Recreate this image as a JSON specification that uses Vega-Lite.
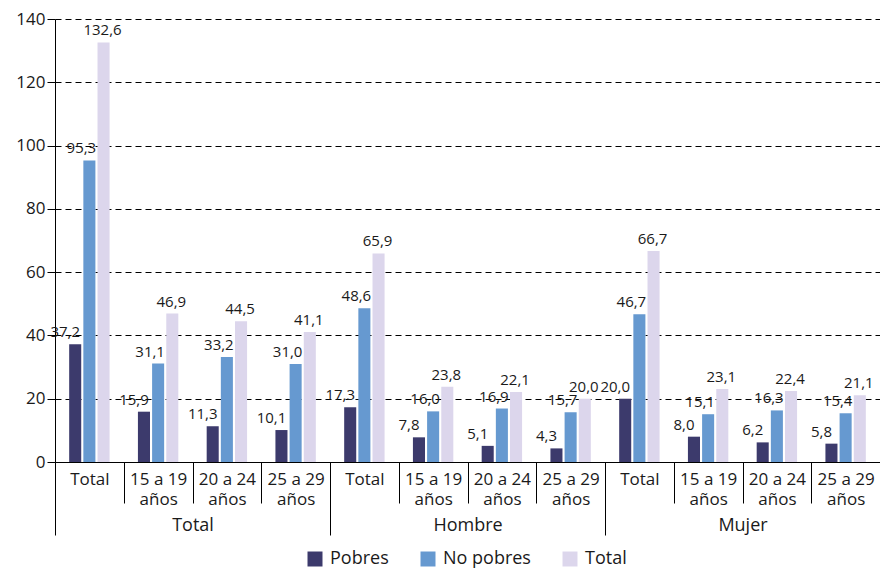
{
  "$schema": "https://vega.github.io/schema/vega-lite/v6.json",
  "autosize": "none",
  "width": 825,
  "height": 443,
  "padding": {"left": 55, "top": 19, "right": 0, "bottom": 109},
  "background": "white",
  "config": {
    "view": {"stroke": null},
    "font": "Open Sans",
    "locale": {"number": {"decimal": ",", "thousands": ".", "grouping": [3], "currency": ["", ""]}},
    "axis": {"labelColor": "#1a1a1a", "labelFont": "Open Sans", "tickColor": "#000000", "domainColor": "#000000"}
  },
  "datasets": {
    "vals": [
      {"grupo": "Total", "cat": "Total|Total", "serie": "Pobres", "valor": 37.2},
      {"grupo": "Total", "cat": "Total|Total", "serie": "No pobres", "valor": 95.3},
      {"grupo": "Total", "cat": "Total|Total", "serie": "Total", "valor": 132.6},
      {"grupo": "Total", "cat": "Total|15 a 19|años", "serie": "Pobres", "valor": 15.9},
      {"grupo": "Total", "cat": "Total|15 a 19|años", "serie": "No pobres", "valor": 31.1},
      {"grupo": "Total", "cat": "Total|15 a 19|años", "serie": "Total", "valor": 46.9},
      {"grupo": "Total", "cat": "Total|20 a 24|años", "serie": "Pobres", "valor": 11.3},
      {"grupo": "Total", "cat": "Total|20 a 24|años", "serie": "No pobres", "valor": 33.2},
      {"grupo": "Total", "cat": "Total|20 a 24|años", "serie": "Total", "valor": 44.5},
      {"grupo": "Total", "cat": "Total|25 a 29|años", "serie": "Pobres", "valor": 10.1},
      {"grupo": "Total", "cat": "Total|25 a 29|años", "serie": "No pobres", "valor": 31.0},
      {"grupo": "Total", "cat": "Total|25 a 29|años", "serie": "Total", "valor": 41.1},
      {"grupo": "Hombre", "cat": "Hombre|Total", "serie": "Pobres", "valor": 17.3},
      {"grupo": "Hombre", "cat": "Hombre|Total", "serie": "No pobres", "valor": 48.6},
      {"grupo": "Hombre", "cat": "Hombre|Total", "serie": "Total", "valor": 65.9},
      {"grupo": "Hombre", "cat": "Hombre|15 a 19|años", "serie": "Pobres", "valor": 7.8},
      {"grupo": "Hombre", "cat": "Hombre|15 a 19|años", "serie": "No pobres", "valor": 16.0},
      {"grupo": "Hombre", "cat": "Hombre|15 a 19|años", "serie": "Total", "valor": 23.8},
      {"grupo": "Hombre", "cat": "Hombre|20 a 24|años", "serie": "Pobres", "valor": 5.1},
      {"grupo": "Hombre", "cat": "Hombre|20 a 24|años", "serie": "No pobres", "valor": 16.9},
      {"grupo": "Hombre", "cat": "Hombre|20 a 24|años", "serie": "Total", "valor": 22.1},
      {"grupo": "Hombre", "cat": "Hombre|25 a 29|años", "serie": "Pobres", "valor": 4.3},
      {"grupo": "Hombre", "cat": "Hombre|25 a 29|años", "serie": "No pobres", "valor": 15.7},
      {"grupo": "Hombre", "cat": "Hombre|25 a 29|años", "serie": "Total", "valor": 20.0},
      {"grupo": "Mujer", "cat": "Mujer|Total", "serie": "Pobres", "valor": 20.0},
      {"grupo": "Mujer", "cat": "Mujer|Total", "serie": "No pobres", "valor": 46.7},
      {"grupo": "Mujer", "cat": "Mujer|Total", "serie": "Total", "valor": 66.7},
      {"grupo": "Mujer", "cat": "Mujer|15 a 19|años", "serie": "Pobres", "valor": 8.0},
      {"grupo": "Mujer", "cat": "Mujer|15 a 19|años", "serie": "No pobres", "valor": 15.1},
      {"grupo": "Mujer", "cat": "Mujer|15 a 19|años", "serie": "Total", "valor": 23.1},
      {"grupo": "Mujer", "cat": "Mujer|20 a 24|años", "serie": "Pobres", "valor": 6.2},
      {"grupo": "Mujer", "cat": "Mujer|20 a 24|años", "serie": "No pobres", "valor": 16.3},
      {"grupo": "Mujer", "cat": "Mujer|20 a 24|años", "serie": "Total", "valor": 22.4},
      {"grupo": "Mujer", "cat": "Mujer|25 a 29|años", "serie": "Pobres", "valor": 5.8},
      {"grupo": "Mujer", "cat": "Mujer|25 a 29|años", "serie": "No pobres", "valor": 15.4},
      {"grupo": "Mujer", "cat": "Mujer|25 a 29|años", "serie": "Total", "valor": 21.1}
    ],
    "grupos": [
      {"grupo": "Total"},
      {"grupo": "Hombre"},
      {"grupo": "Mujer"}
    ]
  },
  "resolve": {"scale": {"x": "independent"}},
  "layer": [
    {
      "data": {"name": "vals"},
      "encoding": {
        "x": {
          "field": "cat",
          "type": "nominal",
          "sort": ["Total|Total", "Total|15 a 19|años", "Total|20 a 24|años", "Total|25 a 29|años", "Hombre|Total", "Hombre|15 a 19|años", "Hombre|20 a 24|años", "Hombre|25 a 29|años", "Mujer|Total", "Mujer|15 a 19|años", "Mujer|20 a 24|años", "Mujer|25 a 29|años"],
          "scale": {"paddingInner": 0, "paddingOuter": 0},
          "axis": {
            "title": null,
            "orient": "bottom",
            "labelAngle": 0,
            "labelExpr": "slice(split(datum.label, '|'), 1)",
            "labelFontSize": 17,
            "labelLineHeight": 20,
            "labelPadding": -32,
            "tickSize": 41,
            "tickBand": "extent",
            "domain": true,
            "domainWidth": 1,
            "grid": false
          }
        },
        "xOffset": {
          "field": "serie",
          "type": "nominal",
          "sort": ["Pobres", "No pobres", "Total"],
          "scale": {"paddingInner": 0.15, "paddingOuter": 1.15}
        },
        "y": {
          "field": "valor",
          "type": "quantitative",
          "scale": {"domain": [0, 140], "nice": false},
          "axis": {
            "title": null,
            "values": [0, 20, 40, 60, 80, 100, 120, 140],
            "format": "d",
            "labelFontSize": 17,
            "labelPadding": 2,
            "tickSize": 8,
            "grid": true,
            "gridColor": "#000000",
            "gridDash": [6, 4],
            "gridWidth": 1,
            "domain": true
          }
        }
      },
      "layer": [
        {
          "mark": {"type": "bar"},
          "encoding": {
            "color": {
              "field": "serie",
              "type": "nominal",
              "sort": ["Pobres", "No pobres", "Total"],
              "scale": {"domain": ["Pobres", "No pobres", "Total"], "range": ["#3c3a6c", "#6699d0", "#dcd6ec"]},
              "legend": {
                "title": null,
                "orient": "none",
                "legendX": 251,
                "legendY": 531,
                "direction": "horizontal",
                "symbolType": "square",
                "symbolSize": 225,
                "symbolStrokeWidth": 0,
                "labelFontSize": 18,
                "labelColor": "#1a1a1a",
                "labelOffset": 6,
                "columnPadding": 30
              }
            }
          }
        },
        {
          "transform": [{"filter": "datum.serie === 'Pobres'"}],
          "mark": {"type": "text", "baseline": "bottom", "dy": -4, "dx": -10, "fontSize": 15, "color": "#1a1a1a"},
          "encoding": {"text": {"field": "valor", "type": "quantitative", "format": ".1f"}}
        },
        {
          "transform": [{"filter": "datum.serie === 'No pobres'"}],
          "mark": {"type": "text", "baseline": "bottom", "dy": -4, "dx": -8, "fontSize": 15, "color": "#1a1a1a"},
          "encoding": {"text": {"field": "valor", "type": "quantitative", "format": ".1f"}}
        },
        {
          "transform": [{"filter": "datum.serie === 'Total'"}],
          "mark": {"type": "text", "baseline": "bottom", "dy": -4, "dx": -1, "fontSize": 15, "color": "#1a1a1a"},
          "encoding": {"text": {"field": "valor", "type": "quantitative", "format": ".1f"}}
        }
      ]
    },
    {
      "data": {"name": "grupos"},
      "mark": {"type": "bar", "opacity": 0},
      "encoding": {
        "x": {
          "field": "grupo",
          "type": "nominal",
          "sort": ["Total", "Hombre", "Mujer"],
          "scale": {"paddingInner": 0, "paddingOuter": 0},
          "axis": {
            "title": null,
            "orient": "bottom",
            "labelAngle": 0,
            "labelFontSize": 18,
            "labelPadding": -19,
            "tickSize": 73,
            "tickBand": "extent",
            "domain": false,
            "grid": false
          }
        }
      }
    }
  ]
}
